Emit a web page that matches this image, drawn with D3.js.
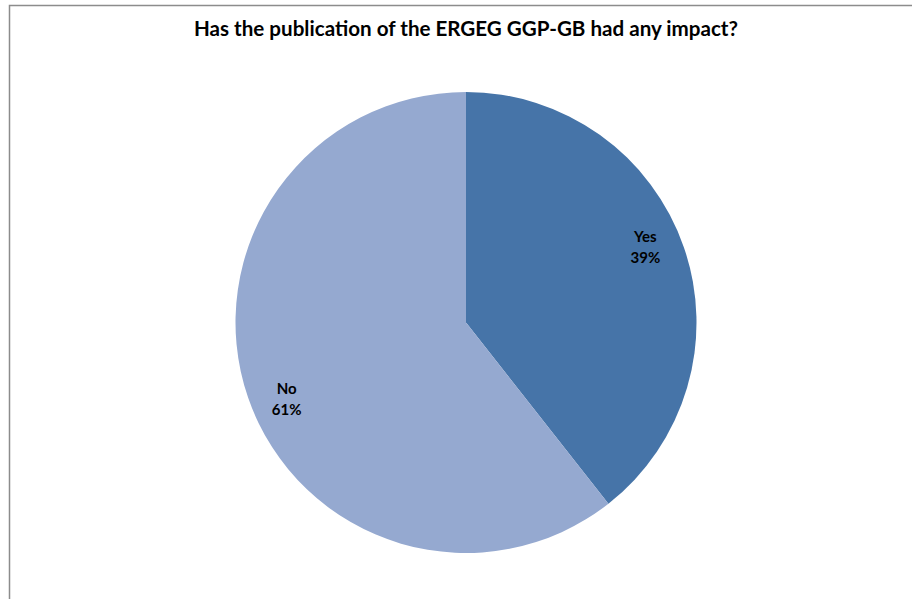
<!DOCTYPE html>
<html>
<head>
<meta charset="utf-8">
<script src="https://cdn.jsdelivr.net/npm/d3@7"></script>
<style>
  html, body { margin: 0; padding: 0; background: #fff; }
  svg { display: block; }
</style>
</head>
<body>
<svg id="chart" width="912" height="599"></svg>
<script>
const categories = ["Yes", "No"];
const values = [39.4, 60.6];
const labels = ["39%", "61%"];
const colors = ["#4674A8", "#95A9D0"];
const title = "Has the publication of the ERGEG GGP-GB had any impact?";

const svg = d3.select("#chart");
const W = 912, H = 599;

// frame (left + top border only visible)
svg.append("path")
  .attr("d", `M9.5,${H} L9.5,5.5 L${W},5.5`)
  .attr("fill", "none")
  .attr("stroke", "#8c8c8c")
  .attr("stroke-width", 1.5);

svg.append("text")
  .attr("x", 466)
  .attr("y", 36)
  .attr("text-anchor", "middle")
  .attr("font-family", "Lato, 'Open Sans', sans-serif")
  .attr("font-weight", "bold")
  .attr("font-size", 20.6)
  .attr("fill", "#000")
  .text(title);

const cx = 466, cy = 322.5, r = 230.5;
const g = svg.append("g").attr("transform", `translate(${cx},${cy})`);

const pie = d3.pie().sort(null).value(d => d.v);
const data = pie(categories.map((c, i) => ({ c, v: values[i], l: labels[i], col: colors[i] })));
const arc = d3.arc().innerRadius(0).outerRadius(r);

g.selectAll("path.slice")
  .data(data)
  .enter().append("path")
  .attr("class", "slice")
  .attr("d", arc)
  .attr("fill", d => d.data.col);

// label placement: near the slice's mid-angle, slightly counter-clockwise
const labelR = 195, shift = -4 * Math.PI / 180;
function labelPos(d) {
  const a = (d.startAngle + d.endAngle) / 2 + shift;
  return [labelR * Math.sin(a), -labelR * Math.cos(a)];
}

const lbl = g.selectAll("text.lbl")
  .data(data)
  .enter().append("text")
  .attr("class", "lbl")
  .attr("transform", d => `translate(${labelPos(d)})`)
  .attr("text-anchor", "middle")
  .attr("font-family", "Lato, 'Open Sans', sans-serif")
  .attr("font-weight", "bold")
  .attr("font-size", 15)
  .attr("fill", "#000");
lbl.append("tspan").attr("x", 0).attr("y", -4.5).text(d => d.data.c);
lbl.append("tspan").attr("x", 0).attr("y", 16.5).text(d => d.data.l);
</script>
</body>
</html>
